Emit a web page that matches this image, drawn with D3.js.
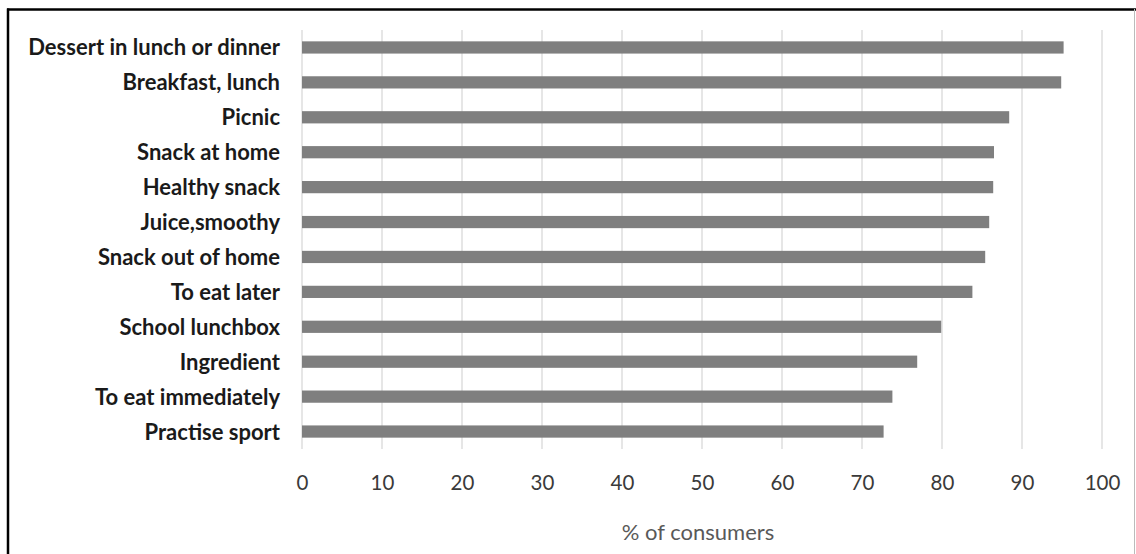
<!DOCTYPE html>
<html>
<head>
<meta charset="utf-8">
<script src="https://cdn.jsdelivr.net/npm/d3@7"></script>
<style>
  html, body { margin: 0; padding: 0; background: #fff; }
  svg { display: block; }
</style>
</head>
<body>
<svg id="chart" width="1136" height="554"></svg>
<script>
const categories = [
  "Dessert in lunch or dinner",
  "Breakfast, lunch",
  "Picnic",
  "Snack at home",
  "Healthy snack",
  "Juice,smoothy",
  "Snack out of home",
  "To eat later",
  "School lunchbox",
  "Ingredient",
  "To eat immediately",
  "Practise sport"
];
const values = [95.2, 94.9, 88.4, 86.5, 86.4, 85.9, 85.4, 83.8, 79.9, 76.9, 73.8, 72.7];
const xTicks = [0, 10, 20, 30, 40, 50, 60, 70, 80, 90, 100];
const xTitle = "% of consumers";

const svg = d3.select("#chart");
const W = 1136, H = 554;
svg.append("rect").attr("width", W).attr("height", H).attr("fill", "#fff");

const plot = { left: 302, right: 1102, top: 30, bottom: 449 };

const x = d3.scaleLinear().domain([0, 100]).range([plot.left, plot.right]);
const y = d3.scaleBand().domain(categories).range([plot.top, plot.bottom])
  .paddingInner(0.65).paddingOuter(0.325);

// gridlines
svg.append("g").selectAll("line").data(xTicks).join("line")
  .attr("x1", d => x(d)).attr("x2", d => x(d))
  .attr("y1", plot.top).attr("y2", plot.bottom)
  .attr("stroke", "#d9d9d9").attr("stroke-width", 1.3);

// bars
svg.append("g").selectAll("rect").data(values).join("rect")
  .attr("x", x(0))
  .attr("y", (d, i) => y(categories[i]))
  .attr("width", d => x(d) - x(0))
  .attr("height", y.bandwidth())
  .attr("fill", "#7f7f7f");

// category labels
svg.append("g").selectAll("text").data(categories).join("text")
  .attr("x", 280)
  .attr("y", d => y(d) + y.bandwidth() / 2 + 8)
  .attr("text-anchor", "end")
  .attr("font-family", "Lato, 'Open Sans', sans-serif")
  .attr("font-weight", "bold")
  .attr("font-size", 22)
  .attr("fill", "#1a1a1a")
  .text(d => d);

// x axis tick labels
const xAxis = d3.axisBottom(x).tickValues(xTicks).tickSize(0).tickPadding(0).tickFormat(d3.format("d"));
const gx = svg.append("g").attr("transform", `translate(0, 490)`).call(xAxis);
gx.select(".domain").remove();
gx.selectAll("text")
  .attr("dy", 0).attr("y", 0)
  .attr("font-family", "Lato, 'Open Sans', sans-serif")
  .attr("font-size", 20.5)
  .attr("fill", "#3a3a3a");

// axis title
svg.append("text")
  .attr("x", (plot.left + plot.right) / 2 - 4)
  .attr("y", 540)
  .attr("text-anchor", "middle")
  .attr("font-family", "Lato, 'Open Sans', sans-serif")
  .attr("font-size", 22)
  .attr("fill", "#595959")
  .text(xTitle);

// frame
svg.append("line").attr("x1", 7).attr("x2", 1136).attr("y1", 9.5).attr("y2", 9.5)
  .attr("stroke", "#000").attr("stroke-width", 2.5);
svg.append("line").attr("x1", 8).attr("x2", 8).attr("y1", 8.5).attr("y2", H)
  .attr("stroke", "#000").attr("stroke-width", 2.5);
svg.append("line").attr("x1", 1134.5).attr("x2", 1134.5).attr("y1", 9).attr("y2", H)
  .attr("stroke", "#bbb").attr("stroke-width", 1);
</script>
</body>
</html>
